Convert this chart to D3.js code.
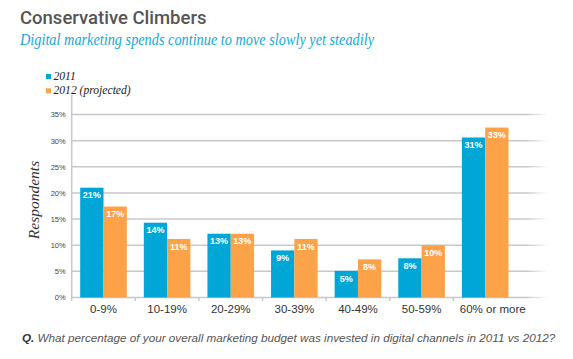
<!DOCTYPE html>
<html><head><meta charset="utf-8">
<script src="https://cdn.jsdelivr.net/npm/d3@7"></script>
<style>
html,body{margin:0;padding:0;background:#fff;}
svg{display:block;}
</style></head>
<body>
<script>
const categories = ["0-9%","10-19%","20-29%","30-39%","40-49%","50-59%","60% or more"];
const seriesNames = ["2011","2012 (projected)"];
const values2011 = [21, 14.3, 12.2, 9, 5.1, 7.5, 30.6];
const values2012 = [17.4, 11.2, 12.2, 11.2, 7.3, 10, 32.5];
const labels2011 = ["21%","14%","13%","9%","5%","8%","31%"];
const labels2012 = ["17%","11%","13%","11%","8%","10%","33%"];
const yTicks = [0,5,10,15,20,25,30,35];
const colors = ["#00a6d6","#fca34a"];

const W = 573, H = 359;
const svg = d3.select("body").append("svg").attr("width",W).attr("height",H);

const x0 = d3.scaleBand().domain(categories).range([71.7, 517]).paddingInner(0).paddingOuter(0);
const x1 = d3.scaleBand().domain([0,1]).range([8.5, x0.bandwidth()-8.5]);
const y = d3.scaleLinear().domain([0,35]).range([297.5,114.5]);

const defs = svg.append("defs");
const grad = defs.append("linearGradient").attr("id","fade").attr("gradientUnits","userSpaceOnUse")
  .attr("x1",526).attr("x2",548).attr("y1",0).attr("y2",0);
grad.append("stop").attr("offset",0).attr("stop-color","#c6c8cb").attr("stop-opacity",1);
grad.append("stop").attr("offset",1).attr("stop-color","#c6c8cb").attr("stop-opacity",0);

// Title
svg.append("text").attr("x",20).attr("y",23.5)
  .style("font-family","Roboto, 'Liberation Sans', Arial, sans-serif").style("font-weight",500)
  .style("font-size","18.5px").attr("fill","#555").text("Conservative Climbers");
svg.append("text").attr("x",20).attr("y",45)
  .attr("textLength",354).attr("lengthAdjust","spacingAndGlyphs")
  .style("font-family","'Liberation Serif', 'DejaVu Serif', serif").style("font-style","italic")
  .style("font-size","16.5px").attr("fill","#12a8d8").text("Digital marketing spends continue to move slowly yet steadily");

// Legend
const leg = svg.append("g");
seriesNames.forEach((n,i)=>{
  leg.append("rect").attr("x",46).attr("y",74+i*14.3).attr("width",5).attr("height",5).attr("fill",colors[i]);
  leg.append("text").attr("x",53.5).attr("y",80+i*14.3)
    .style("font-family","'Liberation Serif', serif").style("font-style","italic").style("font-size","11.6px")
    .attr("fill","#222").text(n);
});

// Gridlines
svg.append("g").selectAll("line").data(yTicks).join("line")
  .attr("x1",71.7).attr("x2",548).attr("y1",d=>y(d)).attr("y2",d=>y(d))
  .attr("stroke","url(#fade)").attr("stroke-width",1.5);

// y axis
const yAxis = d3.axisLeft(y).tickValues(yTicks).tickSize(0).tickPadding(6).tickFormat(d=>d+"%");
const ga = svg.append("g").attr("transform","translate(71.7,0)").call(yAxis);
ga.select(".domain").remove();
ga.selectAll("text").style("font-family","'Liberation Sans', Arial, sans-serif").style("font-size","7.5px").attr("fill","#444");
svg.append("line").attr("x1",71.7).attr("x2",71.7).attr("y1",95).attr("y2",301)
  .attr("stroke","#c6c8cb").attr("stroke-width",1.5);

// x ticks at band boundaries
const bounds = categories.slice(1).map(c=>x0(c));
svg.append("g").selectAll("line").data(bounds).join("line")
  .attr("x1",d=>d).attr("x2",d=>d).attr("y1",297.5).attr("y2",301)
  .attr("stroke","#c6c8cb").attr("stroke-width",1.5);

// x axis labels
const xAxis = d3.axisBottom(x0).tickSize(0).tickPadding(7);
const gx = svg.append("g").attr("transform","translate(0,297.5)").call(xAxis);
gx.select(".domain").remove();
gx.selectAll("text").style("font-family","'Liberation Sans', Arial, sans-serif").style("font-size","11.5px").attr("fill","#333")
  .attr("dx",(d,i)=> i===categories.length-1 ? 7.5 : 0);

// Bars
const data = categories.map((c,i)=>({c, v:[values2011[i],values2012[i]], l:[labels2011[i],labels2012[i]]}));
const groups = svg.append("g").selectAll("g").data(data).join("g").attr("transform",d=>`translate(${x0(d.c)},0)`);
groups.selectAll("rect").data(d=>d.v.map((v,k)=>({v,k}))).join("rect")
  .attr("x",d=>x1(d.k)).attr("width",x1.bandwidth()).attr("y",d=>y(d.v)).attr("height",d=>y(0)-y(d.v))
  .attr("fill",d=>colors[d.k]);
groups.selectAll("text").data(d=>d.v.map((v,k)=>({v,k,l:d.l[k]}))).join("text")
  .attr("x",d=>x1(d.k)+x1.bandwidth()/2).attr("y",d=>y(d.v)+10.7)
  .attr("text-anchor","middle").style("font-family","'Liberation Sans', Arial, sans-serif")
  .style("font-weight","bold").style("font-size","9px").attr("fill","#fff").text(d=>d.l);

// Y title
svg.append("text").attr("transform","translate(39,200) rotate(-90)").attr("text-anchor","middle")
  .style("font-family","'Liberation Serif', serif").style("font-style","italic").style("font-size","15.5px")
  .attr("fill","#333").text("Respondents");

// Footer
const ft = svg.append("text").attr("x",22).attr("y",342.3)
  .style("font-family","'Liberation Sans', Arial, sans-serif").style("font-style","italic").style("font-size","11.7px").attr("fill","#555");
ft.append("tspan").style("font-weight","bold").attr("fill","#333").text("Q.");
ft.append("tspan").text(" What percentage of your overall marketing budget was invested in digital channels in 2011 vs 2012?");
</script>
</body></html>
